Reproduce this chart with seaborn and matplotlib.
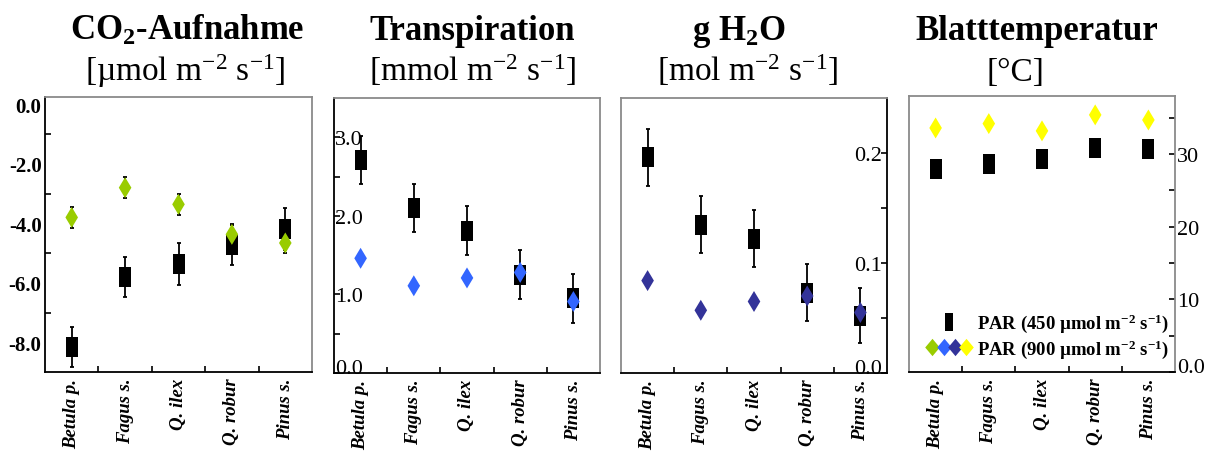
import numpy as np
import pandas as pd
import matplotlib
matplotlib.use("Agg")
import matplotlib.pyplot as plt
import seaborn as sns
from matplotlib.lines import Line2D
from matplotlib.legend_handler import HandlerTuple

# ---------------- data ----------------
species = ["Betula p.", "Fagus s.", "Q. ilex", "Q. robur", "Pinus s."]

co2_450 = [-8.15, -5.80, -5.37, -4.72, -4.20]
co2_450_err = [0.68, 0.68, 0.70, 0.68, 0.70]
co2_900 = [-3.80, -2.80, -3.36, -4.37, -4.66]
co2_900_err = [0.35, 0.35, 0.36, 0.34, 0.33]

trans_450 = [2.71, 2.10, 1.81, 1.25, 0.95]
trans_450_err = [0.31, 0.31, 0.31, 0.31, 0.31]
trans_900 = [1.46, 1.11, 1.21, 1.28, 0.91]

gh2o_450 = [0.196, 0.135, 0.122, 0.073, 0.052]
gh2o_450_err = [0.026, 0.026, 0.026, 0.026, 0.025]
gh2o_900 = [0.084, 0.057, 0.065, 0.070, 0.055]

temp_450 = [28.0, 28.7, 29.3, 30.9, 30.7]
temp_900 = [33.6, 34.2, 33.2, 35.4, 34.7]

co2_ticks = [0.0, -2.0, -4.0, -6.0, -8.0]
co2_labels = ["0.0", "-2.0", "-4.0", "-6.0", "-8.0"]
trans_ticks = [0.0, 1.0, 2.0, 3.0]
trans_labels = ["0.0", "1.0", "2.0", "3.0"]
gh2o_ticks = [0.0, 0.1, 0.2]
gh2o_labels = ["0.0", "0.1", "0.2"]
temp_ticks = [0, 10, 20, 30]
temp_labels = ["0.0", "10", "20", "30"]

titles = [r"CO$_{\mathbf{2}}$-Aufnahme", "Transpiration", r"g H$_{\mathbf{2}}$O", "Blatttemperatur"]
units = [r"[µmol m$^{-2}$ s$^{-1}$]", r"[mmol m$^{-2}$ s$^{-1}$]", r"[mol m$^{-2}$ s$^{-1}$]", "[°C]"]

label_450 = r"PAR (450 µmol m$^{\mathbf{-2}}$ s$^{\mathbf{-1}}$)"
label_900 = r"PAR (900 µmol m$^{\mathbf{-2}}$ s$^{\mathbf{-1}}$)"

GREEN = "#99CC00"
BLUE = "#3366FF"
DBLUE = "#333399"
YELLOW = "#FFFF00"

# ---------------- style ----------------
sns.set_theme(style="white")
plt.rcParams["font.family"] = ["Liberation Serif", "DejaVu Serif"]
plt.rcParams["mathtext.fontset"] = "custom"
plt.rcParams["mathtext.rm"] = "Liberation Serif"
plt.rcParams["mathtext.it"] = "Liberation Serif:italic"
plt.rcParams["mathtext.bf"] = "Liberation Serif:bold"
plt.rcParams["text.color"] = "black"
plt.rcParams["xtick.color"] = "black"
plt.rcParams["ytick.color"] = "black"
plt.rcParams["xtick.labelcolor"] = "black"
plt.rcParams["ytick.labelcolor"] = "black"
plt.rcParams["axes.labelcolor"] = "black"

RECT = [(-0.3, -0.5), (0.3, -0.5), (0.3, 0.5), (-0.3, 0.5), (-0.3, -0.5)]
DIAM = [(0, 0.5), (0.3, 0), (0, -0.5), (-0.3, 0), (0, 0.5)]
RECT_S = 14.4 ** 2
DIAM_S = 15.1 ** 2

W, H = 1206, 452
fig = plt.figure(figsize=(W / 100, H / 100), dpi=100)


def rect(l, r, t, b):
    return [l / W, 1 - b / H, (r - l) / W, (b - t) / H]


def panel(box, y450, e450, y900, e900, c900, ylim, ticks, labels, minor, side):
    ax = fig.add_axes(box)
    d450 = pd.DataFrame({"species": species, "value": y450})
    d900 = pd.DataFrame({"species": species, "value": y900})
    sns.scatterplot(data=d450, x="species", y="value", marker=RECT, s=RECT_S,
                    color="black", linewidth=0, edgecolor="none", ax=ax, zorder=3)
    if e450 is not None:
        ax.errorbar(species, y450, yerr=e450, fmt="none", ecolor="black",
                    elinewidth=1.3, capsize=1.5, capthick=1.3, zorder=2)
    if e900 is not None:
        ax.errorbar(species, y900, yerr=e900, fmt="none", ecolor="black",
                    elinewidth=1.3, capsize=1.5, capthick=1.3, zorder=4)
    sns.scatterplot(data=d900, x="species", y="value", marker=DIAM, s=DIAM_S,
                    color=c900, linewidth=0, edgecolor="none", ax=ax, zorder=5)
    ax.set_xlabel("")
    ax.set_ylabel("")
    ax.set_xlim(-0.5, 4.5)
    ax.set_ylim(*ylim)

    # x axis
    ax.set_xticks(range(len(species)))
    ax.set_xticklabels(species, rotation=90, fontweight="bold", fontstyle="italic",
                       fontsize=13.5, color="black")
    ax.set_xticks([0.5, 1.5, 2.5, 3.5], minor=True)
    ax.tick_params(axis="x", which="major", length=0, pad=4, bottom=True, top=False)
    ax.tick_params(axis="x", which="minor", length=4, width=1.2, direction="in",
                   bottom=True, top=False, color="black")

    # y axis
    ax.set_yticks(ticks)
    ax.set_yticks(minor, minor=True)
    for sp in ax.spines.values():
        sp.set_color("#8a8a8a")
        sp.set_linewidth(1.3)
    ax.spines["bottom"].set_color("black")
    if side == "left_out":
        ax.set_yticklabels(labels, fontsize=15, fontweight="bold", color="black")
        ax.tick_params(axis="y", which="both", direction="in", left=True, right=False,
                       labelleft=True, labelright=False, pad=2.5, color="black", width=1.2)
        ax.tick_params(axis="y", which="major", length=0)
        ax.tick_params(axis="y", which="minor", length=4)
        ax.spines["left"].set_color("black")
    elif side == "left_in":
        ax.set_yticklabels(labels, fontsize=16, color="black")
        ax.tick_params(axis="y", which="both", direction="in", left=True, right=False,
                       labelleft=True, labelright=False, pad=-1.0, length=4,
                       color="black", width=1.2)
        for t in ax.get_yticklabels():
            t.set_ha("left")
        ax.get_yticklabels()[0].set_va("baseline")
        ax.spines["left"].set_color("black")
    elif side == "right_in":
        ax.set_yticklabels(labels, fontsize=16, color="black")
        ax.tick_params(axis="y", which="both", direction="in", left=False, right=True,
                       labelleft=False, labelright=True, pad=-3.5, length=4,
                       color="black", width=1.2)
        for t in ax.get_yticklabels():
            t.set_ha("right")
        ax.get_yticklabels()[0].set_va("baseline")
        ax.spines["right"].set_color("black")
    else:  # right_out
        ax.set_yticklabels(labels, fontsize=16, color="black")
        ax.tick_params(axis="y", which="both", direction="in", left=False, right=True,
                       labelleft=False, labelright=True, pad=1.5, length=4,
                       color="black", width=1.2)
        ax.get_yticklabels()[0].set_va("baseline")
    return ax


ax1 = panel(rect(45, 312, 98, 373), co2_450, co2_450_err, co2_900, co2_900_err, GREEN,
            (-9.0, 0.25), co2_ticks, co2_labels, [-1, -3, -5, -7], "left_out")
ax2 = panel(rect(334, 600, 99, 374), trans_450, trans_450_err, trans_900, None, BLUE,
            (0, 3.5), trans_ticks, trans_labels, [0.5, 2.5], "left_in")
ax3 = panel(rect(621, 887, 99, 374), gh2o_450, gh2o_450_err, gh2o_900, None, DBLUE,
            (0, 0.25), gh2o_ticks, gh2o_labels, [0.05, 0.15], "right_in")
ax4 = panel(rect(909, 1175, 97, 373), temp_450, None, temp_900, None, YELLOW,
            (0, 38), temp_ticks, temp_labels, [5, 15, 25, 35], "right_out")

# ---------------- titles ----------------
title_x = [187, 472, 739, 1037]
unit_x = [185, 473, 748, 1015]
for tx, ux, t, u in zip(title_x, unit_x, titles, units):
    fig.text(tx / W, 1 - 40 / H, t, ha="center", va="baseline", fontsize=25,
             fontweight="bold", color="black")
    fig.text(ux / W, 1 - 81 / H, u, ha="center", va="baseline", fontsize=24,
             color="black")

# ---------------- legend ----------------
LEG_RECT = [(-0.24, -0.5), (0.24, -0.5), (0.24, 0.5), (-0.24, 0.5), (-0.24, -0.5)]
LEG_DIAM = [(0, 0.5), (0.42, 0), (0, -0.5), (-0.42, 0), (0, 0.5)]
h450 = Line2D([], [], ls="none", marker=LEG_RECT, color="black", markersize=13,
              markeredgewidth=0)
h900 = tuple(Line2D([], [], ls="none", marker=LEG_DIAM, color=c, markersize=12.5,
                    markeredgewidth=0) for c in [GREEN, BLUE, DBLUE, YELLOW])
leg = ax4.legend([h450, h900], [label_450, label_900],
                 handler_map={tuple: HandlerTuple(ndivide=None, pad=0)},
                 loc="lower right", bbox_to_anchor=(0.98, 0.045), frameon=False,
                 handlelength=2.4, handletextpad=0.3, labelspacing=0.15, borderpad=0,
                 borderaxespad=0, prop={"family": "Liberation Serif", "weight": "bold",
                                        "size": 13.5})
for t in leg.get_texts():
    t.set_color("black")

fig.savefig("out.png", dpi=100)
